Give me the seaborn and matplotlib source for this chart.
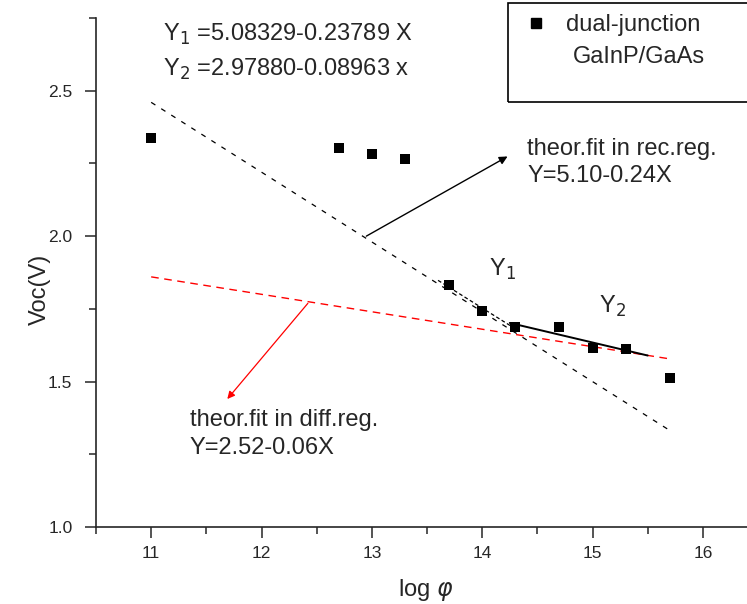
import matplotlib
matplotlib.use("Agg")
import matplotlib.pyplot as plt
from matplotlib.patches import Rectangle
from matplotlib.ticker import MultipleLocator
import numpy as np
import pandas as pd
import seaborn as sns

# ---- data ----
log_phi = [11.0, 12.7, 13.0, 13.3, 13.7, 14.0, 14.3, 14.7, 15.0, 15.3, 15.7]
voc = [2.337, 2.302, 2.284, 2.265, 1.832, 1.742, 1.687, 1.689, 1.617, 1.611, 1.512]

# theoretical fits (intercept, slope) and x-ranges
rec_fit = (5.10, -0.24)
rec_x = [11.0, 15.7]
diff_fit = (2.52, -0.06)
diff_x = [11.0, 15.7]
y1_fit = (5.08329, -0.23789)
y1_x = [13.6, 14.3]
y2_fit = (2.97880, -0.08963)
y2_x = [14.25, 15.5]

x_ticks = [11, 12, 13, 14, 15, 16]
y_ticks = [1.0, 1.5, 2.0, 2.5]

sns.set_style("ticks")
plt.rcParams['font.family'] = ['Liberation Sans', 'DejaVu Sans']

W, H = 747, 604
fig = plt.figure(figsize=(W / 100, H / 100), dpi=100)
ax = fig.add_axes([96 / W, (H - 527) / H, (W - 96) / W, (527 - 18) / H])


def line_df(fit, xs):
    a, b = fit
    return pd.DataFrame({"x": xs, "y": [a + b * x for x in xs]})


d = line_df(rec_fit, rec_x)
sns.lineplot(data=d, x="x", y="y", ax=ax, color="black", lw=0.9,
             linestyle=(0, (4, 5.5)))
d = line_df(diff_fit, diff_x)
sns.lineplot(data=d, x="x", y="y", ax=ax, color="red", lw=1.0,
             linestyle=(0, (5.5, 4)))
d = line_df(y1_fit, y1_x)
sns.lineplot(data=d, x="x", y="y", ax=ax, color="black", lw=0.9,
             linestyle=(0, (3, 2)))
d = line_df(y2_fit, y2_x)
sns.lineplot(data=d, x="x", y="y", ax=ax, color="black", lw=1.4)

pts = pd.DataFrame({"x": log_phi, "y": voc})
sns.scatterplot(data=pts, x="x", y="y", ax=ax, marker="s", s=60,
                color="black", edgecolor="black", linewidth=0, zorder=5)

# arrows
ax.annotate("", xy=(14.23, 2.274), xytext=(12.95, 2.0),
            arrowprops=dict(arrowstyle="-|>", color="black", lw=1.0,
                            mutation_scale=12, shrinkA=0, shrinkB=0))
ax.annotate("", xy=(11.69, 1.440), xytext=(12.42, 1.769),
            arrowprops=dict(arrowstyle="-|>", color="red", lw=0.9,
                            mutation_scale=11, shrinkA=0, shrinkB=0))

# texts
fs = 17
ax.text(11.11, 2.693, r"Y$_{1}$ =5.08329-0.23789 X", fontsize=fs, va="center", ha="left")
ax.text(11.11, 2.573, r"Y$_{2}$ =2.97880-0.08963 x", fontsize=fs, va="center", ha="left")
ax.text(14.41, 2.299, "theor.fit in rec.reg.", fontsize=fs, va="center", ha="left")
ax.text(14.41, 2.207, "Y=5.10-0.24X", fontsize=fs, va="center", ha="left")
ax.text(11.35, 1.367, "theor.fit in diff.reg.", fontsize=fs, va="center", ha="left")
ax.text(11.35, 1.272, "Y=2.52-0.06X", fontsize=fs, va="center", ha="left")
ax.text(14.06, 1.885, r"Y$_{1}$", fontsize=fs, va="center", ha="left")
ax.text(15.06, 1.758, r"Y$_{2}$", fontsize=fs, va="center", ha="left")

# legend box (manual, extends past right edge)
fig.patches.append(Rectangle((508 / W, (H - 102) / H), 300 / W, 99 / H,
                             transform=fig.transFigure, fill=False,
                             edgecolor="black", lw=1.2))
fig.lines.append(plt.Line2D([536 / W], [(H - 23) / H], marker="s", ms=7,
                            color="black", transform=fig.transFigure))
fig.text(566 / W, (H - 25) / H, "dual-junction", fontsize=fs, va="center", ha="left")
fig.text(573 / W, (H - 57) / H, "GaInP/GaAs", fontsize=fs, va="center", ha="left")

# axes styling
ax.set_xlim(10.5, 16.40)
ax.set_ylim(1.0, 2.75)
ax.set_xticks(x_ticks)
ax.set_yticks(y_ticks)
ax.set_yticklabels([f"{v:.1f}" for v in y_ticks])
ax.xaxis.set_minor_locator(MultipleLocator(0.5))
ax.yaxis.set_minor_locator(MultipleLocator(0.25))
ax.tick_params(which="major", direction="out", length=8, width=1.1, labelsize=12.5)
ax.tick_params(axis="x", which="major", pad=6)
ax.tick_params(axis="y", which="major", pad=9)
ax.tick_params(which="minor", direction="out", length=5, width=1.1)
for s in ["top", "right"]:
    ax.spines[s].set_visible(False)
for s in ["left", "bottom"]:
    ax.spines[s].set_linewidth(1.2)
ax.set_xlabel(r"log $\varphi$", fontsize=17)
ax.set_ylabel("Voc(V)", fontsize=17)
ax.xaxis.set_label_coords((426 - 96) / 651, -(590 - 527) / 509)
ax.yaxis.set_label_coords((40 - 96) / 651, (527 - 289) / 509)
ax.xaxis.label.set_va("center")
ax.yaxis.label.set_va("center")

fig.savefig("out.png", dpi=100)
